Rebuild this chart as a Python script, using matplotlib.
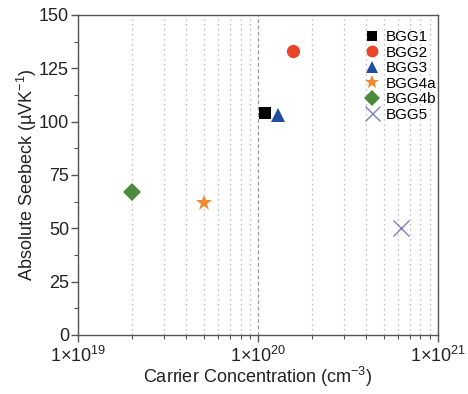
import matplotlib
matplotlib.use("Agg")
import matplotlib.pyplot as plt
from matplotlib.ticker import LogLocator, FixedLocator, MultipleLocator, FuncFormatter
import numpy as np

plt.rcParams['font.family'] = ['Liberation Sans', 'DejaVu Sans']
plt.rcParams['mathtext.fontset'] = 'custom'
plt.rcParams['mathtext.rm'] = 'Liberation Sans'
plt.rcParams['mathtext.it'] = 'Liberation Sans:italic'

samples = ["BGG1", "BGG2", "BGG3", "BGG4a", "BGG4b", "BGG5"]
carrier = [1.1e20, 1.56e20, 1.3e20, 5.0e19, 2.0e19, 6.2e20]
seebeck = [104, 133, 103, 62, 67, 50]
markers = ["s", "o", "^", "*", "D", "x"]
colors = ["#000000", "#E8452B", "#1F4E9E", "#EF8A2E", "#4C8B3B", "#8080C0"]
sizes = [8.5, 9.5, 10, 12, 9, 12]

fig = plt.figure(figsize=(4.68, 3.94), dpi=100)
ax = fig.add_axes([0.1667, 0.150, 0.769, 0.812])

for s, x, y, m, c, ms in zip(samples, carrier, seebeck, markers, colors, sizes):
    if m == "x":
        ax.plot([x], [y], linestyle="none", marker=m, color=c, markersize=ms,
                markeredgewidth=1.0, label=s)
    else:
        ax.plot([x], [y], linestyle="none", marker=m, color=c, markersize=ms,
                markeredgewidth=0, label=s)

ax.set_xscale("log")
ax.set_xlim(1e19, 1e21)
ax.set_ylim(0, 150)

ax.xaxis.set_major_locator(FixedLocator([1e19, 1e20, 1e21]))
ax.xaxis.set_minor_locator(LogLocator(base=10, subs=np.arange(2, 10)))
def fmt(v, pos):
    e = int(round(np.log10(v)))
    return r"1$\times$10$^{%d}$" % e
ax.xaxis.set_major_formatter(FuncFormatter(fmt))
ax.xaxis.set_minor_formatter(FuncFormatter(lambda v, p: ""))
ax.yaxis.set_major_locator(MultipleLocator(25))
ax.yaxis.set_minor_locator(MultipleLocator(12.5))

ax.grid(True, which="minor", axis="x", linestyle=(0, (1, 3)), color="#aaaaaa", linewidth=0.9)
ax.grid(True, which="major", axis="x", linestyle=(0, (3, 2)), color="#999999", linewidth=0.9)

for sp in ax.spines.values():
    sp.set_color("#555555")
    sp.set_linewidth(1.0)
ax.tick_params(axis="both", which="major", direction="out", length=5, width=1,
               color="#555555", labelsize=13, labelcolor="#222222")
ax.tick_params(axis="both", which="minor", direction="out", length=3, width=0.8,
               color="#555555")
ax.tick_params(axis="x", which="major", pad=3)
ax.tick_params(axis="y", which="major", pad=1.5)

ax.set_xlabel("Carrier Concentration (cm$^{-3}$)", fontsize=13, color="#222222", labelpad=-1)
ax.set_ylabel("Absolute Seebeck (µVK$^{-1}$)", fontsize=13, color="#222222", labelpad=-0.5)

leg = ax.legend(loc="upper left", bbox_to_anchor=(0.792, 0.953), frameon=False,
                fontsize=11, handletextpad=0.3, labelspacing=0.1,
                handlelength=1.2, borderaxespad=0, borderpad=0, markerscale=0.9)

fig.savefig("out.png", dpi=100, facecolor="white")
